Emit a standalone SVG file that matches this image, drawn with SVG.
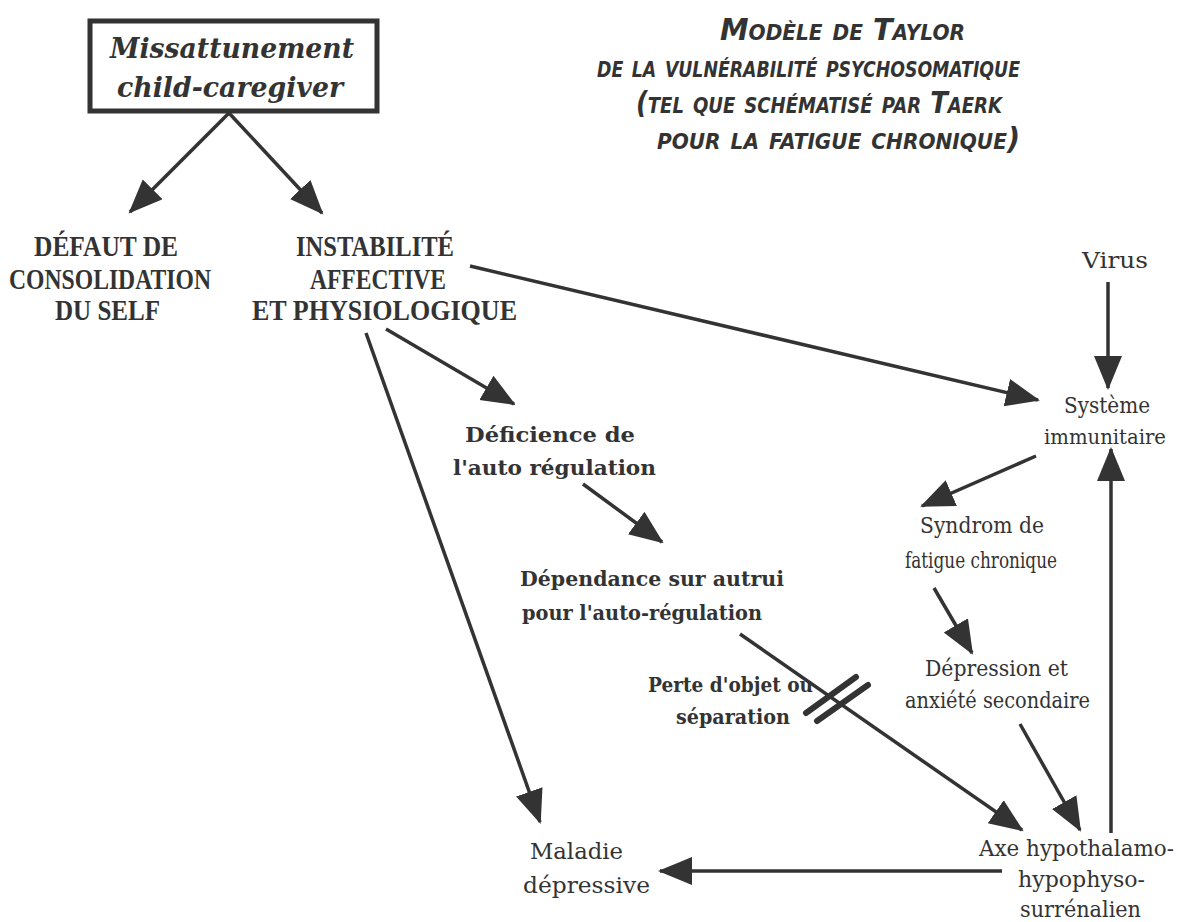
<svg xmlns="http://www.w3.org/2000/svg" width="1178" height="922" viewBox="0 0 1178 922">
<style>
  .bg { fill: #ffffff; }
  .ln { stroke: #333; stroke-width: 3.5; fill: none; marker-end: url(#ah); }
  .bar { stroke: #333; stroke-width: 6; stroke-linecap: round; }
  text { fill: #333; }
  .box { font-family: "DejaVu Serif", "Liberation Serif", serif; font-weight: bold; font-style: italic; font-size: 28px; }
  .title { font-family: "DejaVu Sans", "Open Sans", sans-serif; font-style: italic; font-weight: bold; font-variant: small-caps; font-size: 30px; }
  .caps { font-family: "Liberation Serif", serif; font-weight: bold; font-size: 29px; }
  .bold { font-family: "DejaVu Serif", "Liberation Serif", serif; font-weight: bold; font-size: 21px; }
  .reg { font-family: "DejaVu Serif", "Liberation Serif", serif; font-size: 22px; }
</style>
<defs>
  <marker id="ah" markerUnits="userSpaceOnUse" markerWidth="36" markerHeight="30" refX="32" refY="14" orient="auto">
    <path d="M0,0 L34,14 L0,28 z" fill="#333"/>
  </marker>
</defs>
<rect class="bg" x="0" y="0" width="1178" height="922"/>

<g id="title">
  <text class="title" x="720" y="40" textLength="245" lengthAdjust="spacingAndGlyphs">Modèle de Taylor</text>
  <text class="title" x="597" y="77" textLength="423" lengthAdjust="spacingAndGlyphs">de la vulnérabilité psychosomatique</text>
  <text class="title" x="636" y="113" textLength="366" lengthAdjust="spacingAndGlyphs">(tel que schématisé par Taerk</text>
  <text class="title" x="657" y="149" textLength="363" lengthAdjust="spacingAndGlyphs">pour la fatigue chronique)</text>
</g>

<g id="missattunement">
  <rect x="90" y="21" width="287" height="90" fill="#fff" stroke="#333" stroke-width="5"/>
  <text class="box" x="110" y="58" textLength="244" lengthAdjust="spacingAndGlyphs">Missattunement</text>
  <text class="box" x="117" y="97" textLength="226" lengthAdjust="spacingAndGlyphs">child-caregiver</text>
</g>

<g id="defaut">
  <text class="caps" x="34" y="256" textLength="144" lengthAdjust="spacingAndGlyphs">DÉFAUT DE</text>
  <text class="caps" x="9" y="289" textLength="202" lengthAdjust="spacingAndGlyphs">CONSOLIDATION</text>
  <text class="caps" x="55" y="320" textLength="105" lengthAdjust="spacingAndGlyphs">DU SELF</text>
</g>

<g id="instabilite">
  <text class="caps" x="296" y="256" textLength="158" lengthAdjust="spacingAndGlyphs">INSTABILITÉ</text>
  <text class="caps" x="310" y="289" textLength="136" lengthAdjust="spacingAndGlyphs">AFFECTIVE</text>
  <text class="caps" x="252" y="320" textLength="265" lengthAdjust="spacingAndGlyphs">ET PHYSIOLOGIQUE</text>
</g>

<g id="virus">
  <text class="reg" x="1082" y="268" textLength="66" lengthAdjust="spacingAndGlyphs">Virus</text>
</g>

<g id="systeme">
  <text class="reg" x="1064" y="413" textLength="86" lengthAdjust="spacingAndGlyphs">Système</text>
  <text class="reg" x="1044" y="444" textLength="122" lengthAdjust="spacingAndGlyphs" style="font-size:21px">immunitaire</text>
</g>

<g id="deficience">
  <text class="bold" x="465" y="442" textLength="170" lengthAdjust="spacingAndGlyphs">Déficience de</text>
  <text class="bold" x="453" y="475" textLength="203" lengthAdjust="spacingAndGlyphs">l'auto régulation</text>
</g>

<g id="dependance">
  <text class="bold" x="520" y="586" textLength="264" lengthAdjust="spacingAndGlyphs">Dépendance sur autrui</text>
  <text class="bold" x="522" y="620" textLength="240" lengthAdjust="spacingAndGlyphs">pour l'auto-régulation</text>
</g>

<g id="syndrom">
  <text class="reg" x="920" y="533" textLength="124" lengthAdjust="spacingAndGlyphs">Syndrom de</text>
  <text class="reg" x="905" y="568" textLength="152" lengthAdjust="spacingAndGlyphs">fatigue chronique</text>
</g>

<g id="depression">
  <text class="reg" x="925" y="676" textLength="143" lengthAdjust="spacingAndGlyphs">Dépression et</text>
  <text class="reg" x="905" y="708" textLength="185" lengthAdjust="spacingAndGlyphs">anxiété secondaire</text>
</g>

<g id="perte">
  <text class="bold" x="648" y="692" textLength="165" lengthAdjust="spacingAndGlyphs">Perte d'objet ou</text>
  <text class="bold" x="676" y="724" textLength="114" lengthAdjust="spacingAndGlyphs">séparation</text>
</g>

<g id="maladie">
  <text class="reg" x="530" y="859" textLength="93" lengthAdjust="spacingAndGlyphs">Maladie</text>
  <text class="reg" x="523" y="893" textLength="127" lengthAdjust="spacingAndGlyphs">dépressive</text>
</g>

<g id="axe">
  <text class="reg" x="979" y="856" textLength="195" lengthAdjust="spacingAndGlyphs">Axe hypothalamo-</text>
  <text class="reg" x="1018" y="887" textLength="127" lengthAdjust="spacingAndGlyphs">hypophyso-</text>
  <text class="reg" x="1020" y="917" textLength="121" lengthAdjust="spacingAndGlyphs">surrénalien</text>
</g>

<g id="connectors">
  <line class="ln" x1="229" y1="113" x2="130" y2="212"/>
  <line class="ln" x1="229" y1="113" x2="322" y2="213"/>
  <line class="ln" x1="470" y1="266" x2="1038" y2="400"/>
  <line class="ln" x1="386" y1="329" x2="514" y2="404"/>
  <line class="ln" x1="366" y1="333" x2="540" y2="822"/>
  <line class="ln" x1="1108" y1="282" x2="1108" y2="388"/>
  <line class="ln" x1="1036" y1="456" x2="922" y2="506"/>
  <line class="ln" x1="934" y1="588" x2="972" y2="653"/>
  <line class="ln" x1="1111" y1="833" x2="1111" y2="449"/>
  <line class="ln" x1="1020" y1="724" x2="1080" y2="830"/>
  <line class="ln" x1="740" y1="634" x2="1022" y2="830"/>
  <line class="ln" x1="1002" y1="871" x2="660" y2="871"/>
  <line class="ln" x1="583" y1="484" x2="662" y2="542"/>
  <line class="bar" x1="806" y1="713" x2="856" y2="677"/>
  <line class="bar" x1="817" y1="721" x2="868" y2="685"/>
</g>
</svg>
